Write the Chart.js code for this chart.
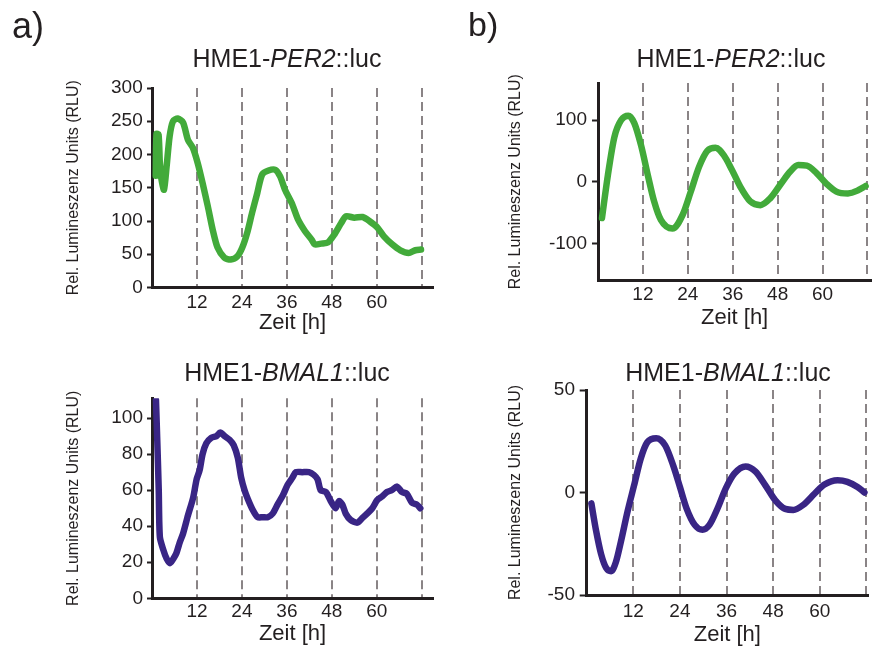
<!DOCTYPE html>
<html>
<head>
<meta charset="utf-8">
<script src="https://cdn.jsdelivr.net/npm/chart.js@4.4.0/dist/chart.umd.min.js"></script>
<style>
  html, body { margin: 0; padding: 0; background: #fff; }
  #wrap { position: relative; width: 872px; height: 650px; overflow: hidden; }
  #wrap canvas { position: absolute; }
</style>
</head>
<body>
<div id="wrap">
  <canvas id="rawPer2" width="436" height="345" style="left:0;top:0"></canvas>
  <canvas id="detPer2" width="436" height="345" style="left:436px;top:0"></canvas>
  <canvas id="rawBmal1" width="436" height="305" style="left:0;top:345px"></canvas>
  <canvas id="detBmal1" width="436" height="305" style="left:436px;top:345px"></canvas>
</div>
<script>
// x ticks (hours) shown as dashed lines
const hourTicks = [12, 24, 36, 48, 60, 72];

// a) raw PER2::luc
const per2RawHours = [1.0, 1.2, 1.75, 2.1, 2.55, 3.2, 3.9, 4.7, 5.6, 6.9, 8.3, 9.6, 10.9, 12.2, 13.5, 14.9, 16.2, 17.5, 19.3, 21.0,
  22.8, 24.1, 25.4, 26.7, 28.1, 29.4, 31.1, 32.9, 34.2, 35.5, 37.3, 39.0, 40.8, 42.6, 43.4, 45.2, 47.0, 48.7, 50.5, 51.8,
  54.0, 56.2, 58.0, 60.2, 61.9, 64.1, 66.3, 68.5, 70.3, 71.8];
const per2RawRLU = [168, 231, 230, 187, 162, 147, 182, 227, 250, 254, 248, 222, 210, 187, 157, 122, 87, 60, 45, 42,
  47, 60, 82, 112, 142, 170, 176, 177, 167, 147, 127, 102, 85, 72, 65, 66, 68, 80, 97, 107,
  105, 106, 100, 90, 77, 65, 56, 52, 56, 57];
const per2RawTicks = [0, 50, 100, 150, 200, 250, 300];

// a) raw BMAL1::luc
const bmal1RawHours = [1.06, 1.4, 1.8, 2.1, 3.0, 3.9, 4.8, 5.7, 6.5, 7.4, 8.3, 9.6, 11.0, 11.9, 12.7, 13.5, 14.5, 15.8, 17.2, 18.2,
  19.4, 20.7, 21.8, 22.9, 23.8, 24.7, 25.6, 26.9, 28.2, 29.6, 30.9, 32.2, 33.5, 34.9, 36.2, 37.5, 38.4, 40.1, 41.9, 43.2,
  44.2, 45.0, 46.4, 47.7, 49.0, 49.9, 50.8, 51.7, 53.0, 54.8, 56.1, 57.4, 58.8, 60.1, 61.4, 62.7, 64.0, 65.4, 66.7, 68.0,
  69.4, 70.7, 71.6];
const bmal1RawRLU = [110, 88, 60, 34, 27, 22, 19.5, 22, 25, 31, 36, 46, 56, 66, 71, 80, 86, 89, 90, 92,
  90, 88, 85, 78, 67, 60, 55, 49, 45, 45, 45, 47, 52, 57, 63, 67, 70, 70, 70, 68.5,
  66, 60, 59, 54, 50, 54, 52, 47, 43.5, 42, 44.5, 47, 50, 54.5, 56.5, 59, 60, 62, 59, 58,
  53, 52, 50];
const bmal1RawTicks = [0, 20, 40, 60, 80, 100];

// b) detrended PER2::luc
const per2DetHours = [1.06, 2.65, 4.4, 6.2, 8.1, 9.7, 11.5, 13.3, 15.0, 16.8, 19.9, 22.6, 24.8, 27.0, 29.2, 31.4,
  33.6, 35.8, 38.0, 40.7, 43.4, 46.0, 48.7, 51.3, 53.5, 55.8, 58.4, 61.0, 63.7, 66.8, 69.5, 71.5];
const per2DetRLU = [-59, 11, 73, 100, 107, 95, 59, 11, -32, -62, -76, -54, -16, 24, 50, 55,
  43, 19, -8, -32, -38, -27, -5, 16, 27, 26, 14, -3, -16, -19, -14, -7];
const per2DetTicks = [-100, 0, 100];

// b) detrended BMAL1::luc
const bmal1DetHours = [1.2, 2.45, 3.7, 5.0, 6.3, 7.5, 8.8, 10.5, 12.2, 13.9, 15.6, 17.9, 20.2, 22.3, 24.0, 25.7, 27.8, 29.8,
  31.6, 33.7, 35.8, 38.0, 40.9, 43.4, 46.0, 48.5, 51.1, 53.2, 55.7, 58.7, 61.2, 64.6, 67.1, 69.7, 71.5];
const bmal1DetRLU = [-5.3, -19, -30, -36.8, -38.4, -34, -24, -9.4, 3.5, 16.5, 24.5, 26.5, 23, 13, 2.7, -7.7, -15.8, -18.2,
  -15.8, -7.7, 2, 9.2, 12.7, 10.3, 3.5, -3.7, -8, -8.5, -6.1, -0.5, 3.9, 6, 5.2, 2.7, 0];
const bmal1DetTicks = [-50, 0, 50];

const FONT = "'Liberation Sans', Arial, Helvetica, sans-serif";
const INK = '#231f20';
const GREEN = '#42aa3a';
const PURPLE = '#392585';

// draws the title with italic gene name and the panel letter
const panelText = {
    id: 'panelText',
    afterDraw(chart, args, o) {
        const ctx = chart.ctx;
        ctx.save();
        ctx.fillStyle = INK;
        ctx.textBaseline = 'alphabetic';
        ctx.textAlign = 'left';
        const fonts = o.parts.map(p => (p[1] ? 'italic ' : '') + o.size + 'px ' + FONT);
        let total = 0;
        const widths = o.parts.map((p, i) => {
            ctx.font = fonts[i];
            const w = ctx.measureText(p[0]).width;
            total += w;
            return w;
        });
        let x = o.x - total / 2;
        o.parts.forEach((p, i) => {
            ctx.font = fonts[i];
            ctx.fillText(p[0], x, o.y);
            x += widths[i];
        });
        if (o.letter) {
            ctx.font = o.letterSize + 'px ' + FONT;
            ctx.fillText(o.letter, o.lx, o.ly);
        }
        ctx.restore();
    }
};

function makeChart(id, hours, values, c) {
    const yLh = 16 * 1.2, xLh = 22 * 1.2, tLh = 19 * 1.2;
    const canvas = document.getElementById(id);
    const padLeft = c.yTitleX - yLh / 2;
    const yW = c.left - padLeft;
    const xH = c.xTitleY + xLh / 2 - c.bottom;
    const padBottom = canvas.height - c.bottom - xH;

    return new Chart(canvas, {
        type: 'line',
        data: {
            datasets: [{
                data: hours.map((h, i) => ({x: h, y: values[i]})),
                borderColor: c.color,
                borderWidth: 6.5,
                borderCapStyle: 'round',
                borderJoinStyle: 'round',
                pointRadius: 0,
                tension: c.smooth ? 0.4 : 0.25,
                cubicInterpolationMode: c.smooth ? 'monotone' : 'default'
            }]
        },
        options: {
            responsive: false,
            animation: false,
            events: [],
            layout: {padding: {left: padLeft, right: canvas.width - c.right, top: c.top, bottom: padBottom}},
            plugins: {
                legend: {display: false},
                tooltip: {enabled: false},
                panelText: c.text
            },
            scales: {
                x: {
                    type: 'linear',
                    min: 0,
                    max: c.xMax,
                    afterBuildTicks: s => { s.ticks = hourTicks.map(v => ({value: v})); },
                    afterFit: s => { s.height = xH; },
                    grid: {color: '#8a8486', lineWidth: 2, drawTicks: false},
                    border: {color: INK, width: 3, dash: [9, 5]},
                    ticks: {
                        color: INK,
                        font: {family: FONT, size: 19},
                        padding: c.xTickY - c.bottom - tLh / 2,
                        autoSkip: false,
                        maxRotation: 0,
                        callback: v => v === 72 ? '' : v
                    },
                    title: {display: true, text: 'Zeit [h]', color: INK, font: {family: FONT, size: 22}, padding: 0}
                },
                y: {
                    min: c.yMin,
                    max: c.yMax,
                    afterBuildTicks: s => { s.ticks = c.yTicks.map(v => ({value: v})); },
                    afterFit: s => { s.width = yW; },
                    grid: {drawOnChartArea: false, tickLength: c.yTickLen, tickColor: INK, tickWidth: 2},
                    border: {color: INK, width: 3},
                    ticks: {
                        color: INK,
                        font: {family: FONT, size: 19},
                        padding: c.left - c.yTickLen - c.yTickRight
                    },
                    title: {display: true, text: 'Rel. Lumineszenz Units (RLU)', color: INK, font: {family: FONT, size: 16}, padding: 0}
                }
            }
        },
        plugins: [panelText]
    });
}

makeChart('rawPer2', per2RawHours, per2RawRLU, {
    left: 152, right: 433, top: 88, bottom: 287.5,
    yTitleX: 73.5, xTitleY: 323, xTickY: 303, yTickLen: 5, yTickRight: 142.7,
    xMax: 75, yMin: 0, yMax: 300, yTicks: per2RawTicks, color: GREEN, smooth: false,
    text: {parts: [['HME1-', false], ['PER2', true], ['::luc', false]], size: 25, x: 287, y: 66.5,
           letter: 'a)', letterSize: 36, lx: 12, ly: 38}
});

makeChart('detPer2', per2DetHours, per2DetRLU, {
    left: 162, right: 435.2, top: 83, bottom: 280.4,
    yTitleX: 80, xTitleY: 318, xTickY: 295, yTickLen: 6, yTickRight: 151,
    xMax: 73, yMin: -160, yMax: 160, yTicks: per2DetTicks, color: GREEN, smooth: true,
    text: {parts: [['HME1-', false], ['PER2', true], ['::luc', false]], size: 25, x: 295, y: 66.5,
           letter: 'b)', letterSize: 34, lx: 32, ly: 36}
});

makeChart('rawBmal1', bmal1RawHours, bmal1RawRLU, {
    left: 152, right: 433, top: 53.3, bottom: 253.3,
    yTitleX: 73.5, xTitleY: 289, xTickY: 266.7, yTickLen: 5, yTickRight: 143,
    xMax: 75, yMin: 0, yMax: 111, yTicks: bmal1RawTicks, color: PURPLE, smooth: false,
    text: {parts: [['HME1-', false], ['BMAL1', true], ['::luc', false]], size: 25, x: 287, y: 35.5}
});

makeChart('detBmal1', bmal1DetHours, bmal1DetRLU, {
    left: 150.7, right: 436, top: 45, bottom: 250,
    yTitleX: 80, xTitleY: 290, xTickY: 267, yTickLen: 7, yTickRight: 139,
    xMax: 72.4, yMin: -50, yMax: 50, yTicks: bmal1DetTicks, color: PURPLE, smooth: true,
    text: {parts: [['HME1-', false], ['BMAL1', true], ['::luc', false]], size: 25, x: 292, y: 35.5}
});
</script>
</body>
</html>
